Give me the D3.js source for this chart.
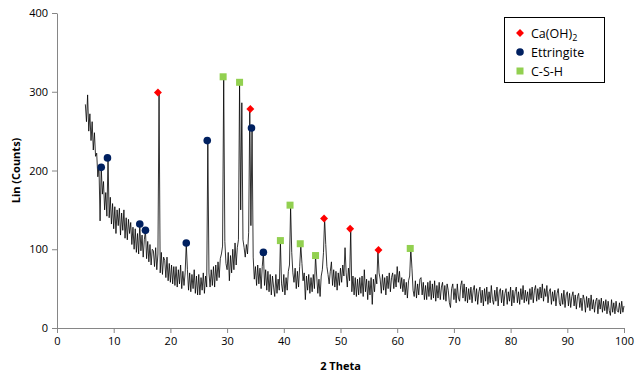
<!DOCTYPE html>
<html>
<head>
<meta charset="utf-8">
<script src="https://cdn.jsdelivr.net/npm/d3@7"></script>
<style>
  body { margin: 0; background: #fff; }
  text { font-family: "Open Sans", sans-serif; }
</style>
</head>
<body>
<div id="chart"></div>
<script>
// scan grid: 2 theta from 5 to 100 in steps of 0.2
const thetaStart = 5;
const thetaStep = 0.2;

// Lin (Counts), one row per 2 degrees
const counts = [
  284, 262, 296, 250, 272, 238, 262, 226, 248, 218,
  222, 192, 206, 136, 204, 170, 186, 150, 172, 142,
  216, 140, 166, 132, 158, 126, 154, 120, 150, 130,
  152, 118, 146, 124, 150, 114, 140, 112, 138, 120,
  134, 106, 128, 100, 126, 96, 120, 94, 132, 98,
  118, 90, 112, 124, 88, 110, 84, 106, 80, 100,
  98, 78, 102, 74, 94, 298, 70, 96, 68, 90,
  86, 64, 90, 60, 82, 58, 80, 56, 78, 54,
  78, 52, 74, 56, 80, 50, 72, 54, 70, 107,
  74, 48, 70, 46, 68, 50, 74, 44, 66, 42,
  68, 42, 64, 48, 70, 44, 66, 52, 237, 70,
  52, 74, 54, 78, 52, 80, 60, 84, 64, 88,
  94, 104, 318, 110, 82, 74, 96, 60, 92, 70,
  100, 74, 108, 80, 102, 112, 311, 150, 286, 112,
  102, 90, 106, 94, 121, 277, 130, 254, 90, 62,
  78, 54, 80, 56, 76, 50, 78, 96, 54, 74,
  48, 72, 46, 68, 42, 66, 52, 40, 68, 44,
  62, 48, 110, 56, 46, 68, 42, 64, 48, 72,
  80, 154, 96, 70, 58, 76, 50, 72, 52, 78,
  105, 82, 60, 70, 36, 66, 48, 68, 44, 64,
  46, 68, 50, 92, 66, 44, 62, 40, 66, 74,
  96, 139, 106, 78, 68, 56, 72, 84, 54, 74,
  52, 72, 48, 70, 54, 76, 58, 80, 66, 102,
  70, 52, 76, 60, 125, 46, 66, 42, 64, 40,
  62, 42, 64, 44, 66, 40, 74, 46, 62, 36,
  60, 42, 64, 30, 62, 46, 68, 56, 99, 70,
  62, 44, 68, 48, 64, 42, 66, 50, 70, 46,
  64, 70, 50, 68, 52, 78, 58, 72, 50, 64,
  46, 62, 42, 58, 38, 60, 66, 101, 76, 48,
  40, 60, 38, 56, 42, 62, 64, 42, 58, 36,
  54, 36, 58, 40, 60, 36, 56, 38, 60, 34,
  54, 38, 58, 36, 52, 58, 36, 54, 34, 56,
  48, 32, 26, 50, 56, 36, 50, 32, 56, 38,
  34, 54, 60, 38, 56, 34, 52, 32, 50, 36,
  52, 32, 48, 54, 34, 50, 30, 46, 52, 32,
  48, 28, 50, 34, 52, 30, 46, 32, 54, 36,
  30, 48, 34, 52, 28, 46, 50, 32, 48, 28,
  44, 50, 30, 46, 34, 52, 28, 48, 32, 46,
  52, 32, 46, 30, 50, 36, 54, 32, 48, 34,
  46, 30, 50, 36, 52, 32, 48, 54, 34, 50,
  36, 52, 38, 56, 34, 50, 40, 54, 32, 46,
  50, 30, 46, 34, 48, 28, 44, 50, 32, 28,
  44, 30, 48, 26, 42, 46, 28, 44, 26, 40,
  46, 28, 42, 24, 40, 44, 26, 38, 22, 42,
  36, 20, 40, 26, 38, 22, 42, 24, 36, 20,
  34, 38, 18, 36, 24, 38, 20, 34, 22, 36,
  18, 34, 22, 16, 36, 20, 32, 18, 34, 22,
  20, 32, 18, 34, 20, 28
];

// phase markers
const caohTheta = [17.8, 34.1, 47.1, 51.7, 56.7];
const caohCounts = [299, 278, 139, 126, 99];
const ettrTheta = [7.8, 8.9, 14.6, 15.6, 22.8, 26.5, 34.3, 36.4];
const ettrCounts = [204, 216, 132, 124, 108, 238, 254, 96];
const cshTheta = [29.3, 32.2, 39.4, 41.1, 42.9, 45.6, 62.3];
const cshCounts = [319, 312, 111, 156, 107, 92, 101];

const xTicks = [0, 10, 20, 30, 40, 50, 60, 70, 80, 90, 100];
const yTicks = [0, 100, 200, 300, 400];

const width = 635, height = 378;
const margin = { top: 13, right: 11, bottom: 50, left: 57 };
const axisColor = '#868686';

const svg = d3.select('#chart').append('svg')
  .attr('width', width)
  .attr('height', height);

const x = d3.scaleLinear().domain([0, 100]).range([margin.left, width - margin.right]);
const y = d3.scaleLinear().domain([0, 400]).range([height - margin.bottom, margin.top]);

const trace = counts.map((c, i) => [thetaStart + i * thetaStep, c]);

// axes
const xAxis = svg.append('g')
  .attr('transform', 'translate(0,' + y(0) + ')')
  .call(d3.axisBottom(x).tickValues(xTicks).tickSize(5).tickSizeOuter(0).tickPadding(4));
const yAxis = svg.append('g')
  .attr('transform', 'translate(' + x(0) + ',0)')
  .call(d3.axisLeft(y).tickValues(yTicks).tickSize(5).tickSizeOuter(0).tickPadding(4));

[xAxis, yAxis].forEach(g => {
  g.selectAll('path, line').attr('stroke', axisColor);
  g.selectAll('text').attr('fill', '#000').style('font-size', '11px');
});

// pattern
svg.append('path')
  .datum(trace)
  .attr('fill', 'none')
  .attr('stroke', '#000')
  .attr('stroke-width', 0.8)
  .attr('d', d3.line().x(d => x(d[0])).y(d => y(d[1])));

// markers
const diamond = d3.symbol().type(d3.symbolDiamond2).size(40);
svg.append('g').selectAll('path')
  .data(caohTheta.map((t, i) => [t, caohCounts[i]]))
  .join('path')
  .attr('d', diamond)
  .attr('fill', '#ff0000')
  .attr('transform', d => 'translate(' + x(d[0]) + ',' + y(d[1]) + ')');

svg.append('g').selectAll('circle')
  .data(ettrTheta.map((t, i) => [t, ettrCounts[i]]))
  .join('circle')
  .attr('r', 3.8)
  .attr('fill', '#002060')
  .attr('cx', d => x(d[0]))
  .attr('cy', d => y(d[1]));

svg.append('g').selectAll('rect')
  .data(cshTheta.map((t, i) => [t, cshCounts[i]]))
  .join('rect')
  .attr('width', 7)
  .attr('height', 7)
  .attr('fill', '#92d050')
  .attr('x', d => x(d[0]) - 3.5)
  .attr('y', d => y(d[1]) - 3.5);

// axis titles
svg.append('text')
  .attr('x', (x(0) + x(100)) / 2)
  .attr('y', 370)
  .attr('text-anchor', 'middle')
  .style('font-size', '11px')
  .style('font-weight', 'bold')
  .text('2 Theta');

svg.append('text')
  .attr('transform', 'translate(20,' + ((y(0) + y(400)) / 2) + ') rotate(-90)')
  .attr('text-anchor', 'middle')
  .style('font-size', '11px')
  .style('font-weight', 'bold')
  .text('Lin (Counts)');

// legend
const legend = svg.append('g');
legend.append('rect')
  .attr('x', 504.5).attr('y', 17.5)
  .attr('width', 100).attr('height', 65)
  .attr('fill', '#fff')
  .attr('stroke', '#000')
  .attr('stroke-width', 1);

legend.append('path')
  .attr('d', diamond)
  .attr('fill', '#ff0000')
  .attr('transform', 'translate(520,33)');
legend.append('circle')
  .attr('cx', 520).attr('cy', 52).attr('r', 3.8)
  .attr('fill', '#002060');
legend.append('rect')
  .attr('x', 516.5).attr('y', 67.5).attr('width', 7).attr('height', 7)
  .attr('fill', '#92d050');

const caohLabel = legend.append('text')
  .attr('x', 531).attr('y', 37.5)
  .style('font-size', '12.5px');
caohLabel.append('tspan').text('Ca(OH)');
caohLabel.append('tspan').attr('dy', 3).style('font-size', '9px').text('2');

legend.append('text')
  .attr('x', 531).attr('y', 56.5)
  .style('font-size', '12.5px')
  .text('Ettringite');
legend.append('text')
  .attr('x', 531).attr('y', 75.5)
  .style('font-size', '12.5px')
  .text('C-S-H');
</script>
</body>
</html>
